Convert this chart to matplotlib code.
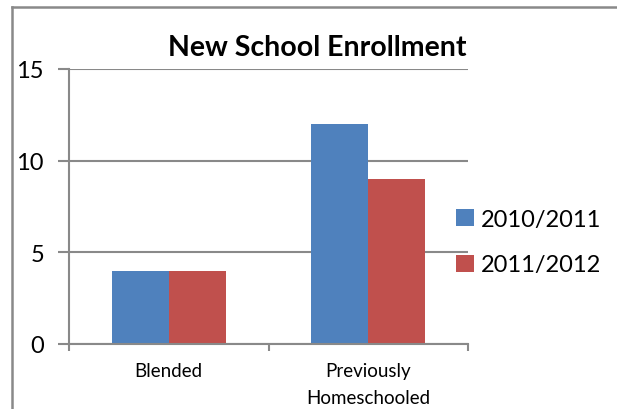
import numpy as np
import matplotlib.pyplot as plt
from matplotlib.lines import Line2D

# Enrollment counts per category and school year
CATEGORIES = ["Blended", "Previously\nHomeschooled"]
YEARS = ["2010/2011", "2011/2012"]
COUNTS_2010 = [4, 12]
COUNTS_2011 = [4, 9]

BLUE = "#4F81BD"
RED = "#C0504D"
GRID = "#898989"
W, H = 617, 410

plt.rcParams["font.family"] = ["Lato", "DejaVu Sans"]

fig = plt.figure(figsize=(W / 100, H / 100), dpi=100)
ax = fig.add_axes([69 / W, 1 - 345 / H, (468 - 69) / W, (345 - 70) / H])

x = np.arange(len(CATEGORIES))
bar_w = 0.2857
ax.bar(x - bar_w / 2, COUNTS_2010, bar_w, color=BLUE, label=YEARS[0])
ax.bar(x + bar_w / 2, COUNTS_2011, bar_w, color=RED, label=YEARS[1])

ax.set_xlim(-0.5, len(CATEGORIES) - 0.5)
ax.set_ylim(0, 15)
ax.set_yticks([0, 5, 10, 15])
ax.tick_params(axis="y", labelsize=17, length=8, width=1.5, color=GRID, pad=10)
ax.yaxis.grid(True, color=GRID, linewidth=1.5)
ax.set_axisbelow(True)

ax.set_xticks(x)
ax.set_xticklabels(CATEGORIES, fontsize=13.5, linespacing=1.7)
ax.tick_params(axis="x", length=0, pad=13)
ax.set_xticks(np.arange(len(CATEGORIES) + 1) - 0.5, minor=True)
ax.tick_params(axis="x", which="minor", length=5, width=1.5, color=GRID)

for side in ("top", "right"):
    ax.spines[side].set_visible(False)
for side in ("left", "bottom"):
    ax.spines[side].set_color(GRID)
    ax.spines[side].set_linewidth(1.5)

fig.text(317 / W, 1 - 48 / H, "New School Enrollment", ha="center",
         va="center", fontsize=20.5, fontweight="bold")

ax.legend(loc="center left", bbox_to_anchor=(456 / W, 1 - 243 / H),
          bbox_transform=fig.transFigure, frameon=False, fontsize=17,
          handlelength=0.75, handleheight=0.75, handletextpad=0.3,
          labelspacing=1.05, borderpad=0, borderaxespad=0)

# outer chart frame
fig.add_artist(Line2D([12 / W, 1], [1 - 8 / H, 1 - 8 / H], color=GRID,
                      linewidth=1.8, transform=fig.transFigure))
fig.add_artist(Line2D([12 / W, 12 / W], [0, 1 - 8 / H], color=GRID,
                      linewidth=1.8, transform=fig.transFigure))

fig.savefig("out.png", dpi=100)
